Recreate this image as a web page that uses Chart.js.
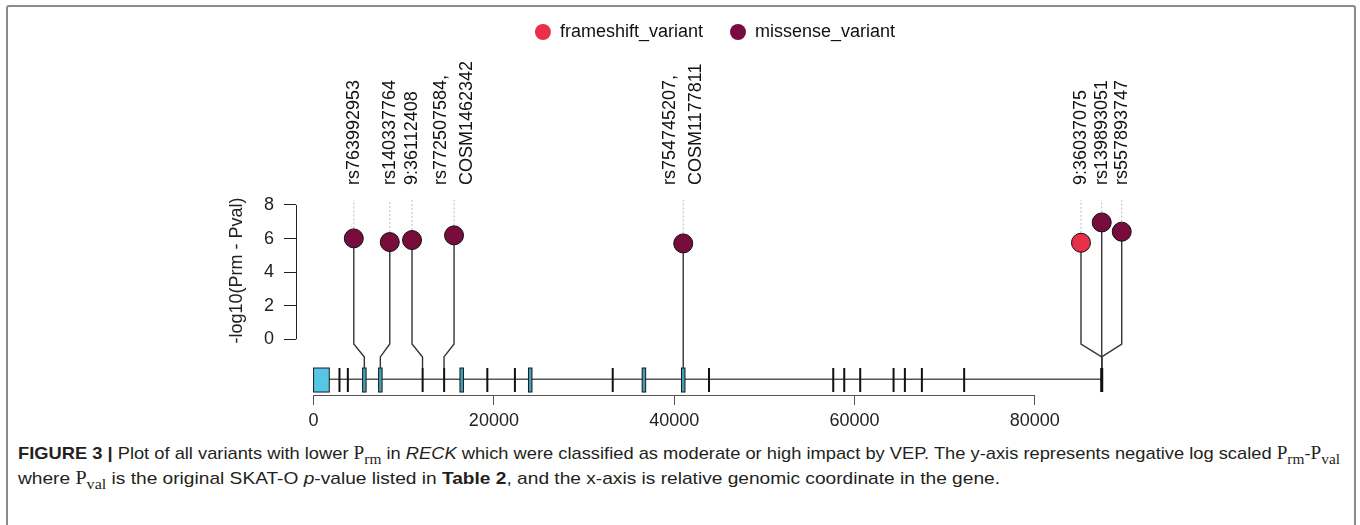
<!DOCTYPE html>
<html>
<head>
<meta charset="utf-8">
<script src="https://cdn.jsdelivr.net/npm/chart.js@4.4.1/dist/chart.umd.min.js"></script>
<style>
  html, body { margin: 0; padding: 0; background: #fff; }
  body { width: 1360px; height: 525px; position: relative; overflow: hidden; font-family: "Liberation Sans", Arial, sans-serif; }
  #moldura { position: absolute; left: 6px; top: 5px; width: 1346px; height: 560px; border: 2px solid #8c8c8c; border-bottom: none; border-radius: 3px; }
  #grafico-wrap { position: absolute; left: 0; top: 0; width: 1360px; height: 440px; }
  #legenda-fig { position: absolute; left: 18px; top: 441px; font-size: 17px; line-height: 25px; color: #231f20; white-space: nowrap; }
  #legenda-fig .linha { display: inline-block; transform-origin: 0 50%; }
  #legenda-fig .p { font-family: "Liberation Serif", "Times New Roman", serif; font-size: 1.05em; }
  #legenda-fig sub { font-size: 0.8em; vertical-align: -0.35em; line-height: 0; }
</style>
</head>
<body>
<div id="moldura"></div>
<div id="grafico-wrap"><canvas id="grafico-variantes"></canvas></div>
<div id="legenda-fig"><span class="linha" data-largura="1322"><b>FIGURE 3 |</b> Plot of all variants with lower <span class="p">P<sub>rm</sub></span> in <i>RECK</i> which were classified as moderate or high impact by VEP. The y-axis represents negative log scaled <span class="p">P<sub>rm</sub></span>-<span class="p">P<sub>val</sub></span></span><br><span class="linha" data-largura="982">where <span class="p">P<sub>val</sub></span> is the original SKAT-O <i>p</i>-value listed in <b>Table 2</b>, and the x-axis is relative genomic coordinate in the gene.</span></div>

<script>
// Dados do gráfico (RECK)
const tiposVariante = ['frameshift_variant', 'missense_variant'];
const coresTipo = ['#e8304b', '#780c3d'];

const rotulosVariante = [
    ['rs763992953'],
    ['rs140337764'],
    ['9:36112408'],
    ['rs772507584,', 'COSM1462342'],
    ['rs754745207,', 'COSM1177811'],
    ['9:36037075'],
    ['rs139893051'],
    ['rs557893747']
];
const tipoDaVariante = [1, 1, 1, 1, 1, 0, 1, 1];
const posicaoVariante = [5630, 7405, 12085, 14470, 41000, 87420, 87420, 87420];
const posicaoPirulito = [4460, 8450, 10920, 15580, 41000, 85120, 87420, 89640];
const valorVariante = [6.01, 5.79, 5.91, 6.19, 5.71, 5.75, 6.96, 6.41];

// exons do gene: inicio, fim, tipo (0 = preto, 1 = azul)
const exonInicio = [0, 2760, 3690, 5435, 7210, 11985, 14370, 16235, 19160, 22220, 23835, 33070, 36445, 40805, 43750, 57530, 58750, 60520, 64220, 65475, 67360, 72050, 87250];
const exonFim = [1740, 2960, 3890, 5825, 7600, 12185, 14570, 16625, 19360, 22420, 24225, 33270, 36835, 41195, 43950, 57730, 58950, 60720, 64420, 65675, 67560, 72250, 87590];
const exonTipo = [1, 0, 0, 1, 1, 0, 0, 1, 0, 0, 1, 0, 1, 1, 0, 0, 0, 0, 0, 0, 0, 0, 0];
const geneInicio = 0;
const geneFim = 87420;

const ticksX = [0, 20000, 40000, 60000, 80000];
const ticksY = [0, 2, 4, 6, 8];

const tituloY = '-log10(Prm - Pval)';
const fonte = '"Liberation Sans", Arial, sans-serif';

// níveis (em unidades do eixo y) da trilha do gene e das hastes
const nivel = {
    hasteFim: -0.28,
    cotovelo: -1.05,
    exonTopo: -1.71,
    exonBase: -3.14,
    linhaGene: -2.38,
    pontilhado: 8.3,
    rotulo: 9.19
};

document.addEventListener('DOMContentLoaded', function() {
    criarGrafico();
    ajustarLegendaFigura();
});

function montarDatasets() {
    return tiposVariante.map((tipo, t) => {
        const pontos = [];
        valorVariante.forEach((v, i) => {
            if (tipoDaVariante[i] === t) pontos.push({ x: posicaoPirulito[i], y: v });
        });
        return {
            label: tipo,
            data: pontos,
            backgroundColor: coresTipo[t],
            borderColor: '#111',
            pointBackgroundColor: coresTipo[t],
            pointBorderColor: '#111',
            pointBorderWidth: 1,
            pointRadius: 9.5,
            pointHoverRadius: 9.5,
            showLine: false
        };
    });
}

// plugin que desenha trilha do gene, hastes, eixos e rótulos
const pluginPirulito = {
    id: 'pirulito',
    beforeDatasetsDraw(chart) {
        const { ctx, scales: { x, y } } = chart;
        ctx.save();

        // eixo y (0 a 8)
        ctx.strokeStyle = '#222';
        ctx.lineWidth = 1;
        ctx.beginPath();
        ctx.moveTo(x.left + 0.5, y.getPixelForValue(ticksY[0]));
        ctx.lineTo(x.left + 0.5, y.getPixelForValue(ticksY[ticksY.length - 1]));
        ctx.stroke();

        // eixo x (0 a 80000)
        ctx.strokeStyle = '#555';
        ctx.beginPath();
        ctx.moveTo(x.getPixelForValue(ticksX[0]), y.bottom + 0.5);
        ctx.lineTo(x.getPixelForValue(ticksX[ticksX.length - 1]), y.bottom + 0.5);
        ctx.stroke();

        // título do eixo y
        ctx.save();
        ctx.translate(x.left - 59, y.getPixelForValue(4.1));
        ctx.rotate(-Math.PI / 2);
        ctx.fillStyle = '#222';
        ctx.font = '18px ' + fonte;
        ctx.textAlign = 'center';
        ctx.textBaseline = 'middle';
        ctx.fillText(tituloY, 0, 0);
        ctx.restore();

        // linha do gene
        const yGene = y.getPixelForValue(nivel.linhaGene);
        ctx.strokeStyle = '#555';
        ctx.lineWidth = 1.5;
        ctx.beginPath();
        ctx.moveTo(x.getPixelForValue(geneInicio), yGene);
        ctx.lineTo(x.getPixelForValue(geneFim), yGene);
        ctx.stroke();

        // exons
        const yTopo = y.getPixelForValue(nivel.exonTopo);
        const yBase = y.getPixelForValue(nivel.exonBase);
        exonInicio.forEach((ini, i) => {
            const x1 = x.getPixelForValue(ini);
            let x2 = x.getPixelForValue(exonFim[i]);
            if (exonTipo[i] === 1) {
                ctx.fillStyle = x2 - x1 > 8 ? '#56c6e6' : '#3f9fbb';
                ctx.fillRect(x1, yTopo, x2 - x1, yBase - yTopo);
                ctx.strokeStyle = '#1a1a1a';
                ctx.lineWidth = 1;
                ctx.strokeRect(x1, yTopo, x2 - x1, yBase - yTopo);
            } else {
                if (x2 - x1 < 2) x2 = x1 + 2;
                ctx.fillStyle = '#111';
                ctx.fillRect(x1, yTopo, x2 - x1, yBase - yTopo);
            }
        });

        // hastes dos pirulitos
        ctx.strokeStyle = '#333';
        ctx.lineWidth = 1.4;
        valorVariante.forEach((v, i) => {
            const xp = x.getPixelForValue(posicaoPirulito[i]);
            const xa = x.getPixelForValue(posicaoVariante[i]);
            ctx.beginPath();
            ctx.moveTo(xp, y.getPixelForValue(v));
            ctx.lineTo(xp, y.getPixelForValue(nivel.hasteFim));
            ctx.lineTo(xa, y.getPixelForValue(nivel.cotovelo));
            ctx.lineTo(xa, yTopo);
            ctx.stroke();
        });

        // linhas pontilhadas e rótulos
        ctx.setLineDash([2, 2]);
        ctx.strokeStyle = '#bbbbbb';
        ctx.lineWidth = 1;
        valorVariante.forEach((v, i) => {
            const xp = x.getPixelForValue(posicaoPirulito[i]);
            ctx.beginPath();
            ctx.moveTo(xp, y.getPixelForValue(v) - 10);
            ctx.lineTo(xp, y.getPixelForValue(nivel.pontilhado));
            ctx.stroke();
        });
        ctx.setLineDash([]);

        ctx.fillStyle = '#111';
        ctx.font = '18px ' + fonte;
        ctx.textAlign = 'left';
        ctx.textBaseline = 'middle';
        rotulosVariante.forEach((linhas, i) => {
            const xp = x.getPixelForValue(posicaoPirulito[i]);
            ctx.save();
            ctx.translate(xp, y.getPixelForValue(nivel.rotulo));
            ctx.rotate(-Math.PI / 2);
            linhas.forEach((txt, k) => {
                ctx.fillText(txt, 0, (k - (linhas.length - 1) / 2) * 26);
            });
            ctx.restore();
        });

        ctx.restore();
    }
};

function criarGrafico() {
    const ctx = document.getElementById('grafico-variantes');
    if (!ctx) return;

    new Chart(ctx, {
        type: 'scatter',
        data: { datasets: montarDatasets() },
        options: {
            responsive: true,
            maintainAspectRatio: false,
            animation: false,
            layout: { padding: { top: -4, left: 0, right: 226, bottom: 0 } },
            plugins: {
                tooltip: { enabled: false },
                legend: {
                    position: 'top',
                    fullSize: false,
                    labels: {
                        usePointStyle: true,
                        pointStyle: 'circle',
                        boxWidth: 16,
                        boxHeight: 11.3,
                        padding: 27,
                        color: '#111',
                        font: { size: 18, family: fonte },
                        generateLabels: function(chart) {
                            const itens = Chart.defaults.plugins.legend.labels.generateLabels(chart);
                            itens.forEach(it => { it.lineWidth = 0; it.strokeStyle = 'rgba(0,0,0,0)'; });
                            return itens;
                        }
                    }
                }
            },
            scales: {
                x: {
                    type: 'linear',
                    min: -1950,
                    max: 91000,
                    afterBuildTicks: s => { s.ticks = ticksX.map(v => ({ value: v })); },
                    afterFit: s => { s.height = 45; },
                    border: { display: false },
                    grid: { drawOnChartArea: false, drawTicks: true, tickLength: 10, color: '#555', lineWidth: 1 },
                    ticks: {
                        autoSkip: false,
                        maxRotation: 0,
                        padding: 5,
                        color: '#222',
                        font: { size: 18, family: fonte },
                        callback: v => String(v)
                    }
                },
                y: {
                    type: 'linear',
                    min: -3.317,
                    max: 17.17,
                    afterBuildTicks: s => { s.ticks = ticksY.map(v => ({ value: v })); },
                    afterFit: s => { s.width = 296; },
                    border: { display: false },
                    grid: { drawOnChartArea: false, drawTicks: true, tickLength: 12, color: '#222', lineWidth: 1 },
                    ticks: {
                        autoSkip: false,
                        padding: 10,
                        color: '#222',
                        font: { size: 18, family: fonte },
                        callback: v => String(v)
                    }
                }
            }
        },
        plugins: [pluginPirulito]
    });
}

// Ajusta a largura de cada linha da legenda da figura
function ajustarLegendaFigura() {
    document.querySelectorAll('#legenda-fig .linha').forEach(linha => {
        const alvo = parseFloat(linha.getAttribute('data-largura'));
        const largura = linha.getBoundingClientRect().width;
        if (largura > 0) {
            linha.style.transform = 'scaleX(' + (alvo / largura) + ')';
        }
    });
}
</script>
</body>
</html>
